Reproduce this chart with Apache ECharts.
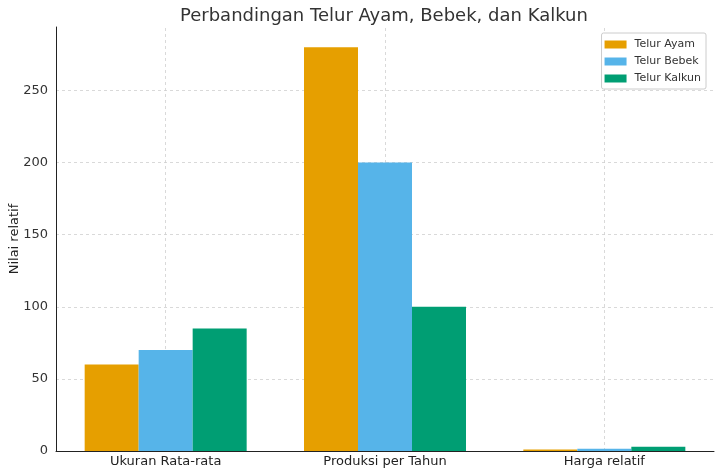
<!DOCTYPE html>
<html>
<head>
<meta charset="utf-8">
<script src="https://cdn.jsdelivr.net/npm/echarts@6/dist/echarts.min.js"></script>
<style>html,body{margin:0;padding:0;background:#fff;}#c{width:720px;height:472px;}</style>
</head>
<body>
<div id="c"></div>
<script>
const categories = ['Ukuran Rata-rata', 'Produksi per Tahun', 'Harga relatif'];
const seriesNames = ['Telur Ayam', 'Telur Bebek', 'Telur Kalkun'];
const ayam = [60, 280, 1];
const bebek = [70, 200, 1.5];
const kalkun = [85, 100, 3];
const yTicks = [0, 50, 100, 150, 200, 250];
const colors = ['#E69F00', '#56B4E9', '#009E73'];

const chart = echarts.init(document.getElementById('c'), null, {renderer: 'canvas'});
const font = 'DejaVu Sans';
const dataSets = [ayam, bebek, kalkun];
const gridLine = {color: '#d0d0d0', type: [3, 3], width: 0.8};
const series = seriesNames.map((n, i) => ({
  name: n, type: 'bar', data: dataSets[i],
  barWidth: 54, barGap: '0%', z: 3,
  itemStyle: {color: colors[i]}
}));
series.push({
  name: 'vgrid', type: 'line', data: [], z: 1, silent: true, symbol: 'none',
  markLine: {
    silent: true, symbol: 'none', z: 1, animation: false,
    label: {show: false},
    lineStyle: gridLine,
    data: categories.map(c => ({xAxis: c}))
  }
});
chart.setOption({
  animation: false,
  backgroundColor: '#fff',
  textStyle: {fontFamily: font},
  title: {
    text: 'Perbandingan Telur Ayam, Bebek, dan Kalkun',
    left: 175, top: 2,
    textStyle: {fontFamily: font, fontSize: 18, fontWeight: 'normal', color: '#333'}
  },
  graphic: [{
    type: 'text', x: 15, y: 239, rotation: Math.PI / 2,
    style: {text: 'Nilai relatif', fontFamily: font, fontSize: 13, fill: '#222',
      align: 'center', verticalAlign: 'middle'}
  }],
  legend: {
    right: 14, top: 33, orient: 'vertical',
    itemWidth: 22, itemHeight: 8, itemGap: 6,
    padding: [6, 5, 5, 3],
    borderColor: '#ccc', borderWidth: 1, borderRadius: 2,
    backgroundColor: '#fff',
    textStyle: {fontFamily: font, fontSize: 11, color: '#333', padding: [0, 0, 0, 3]},
    data: seriesNames.map(n => ({name: n, icon: 'rect'}))
  },
  grid: {left: 56, right: 6, top: 27, bottom: 21, containLabel: false, outerBoundsMode: 'none'},
  xAxis: {
    type: 'category', data: categories,
    axisLine: {lineStyle: {color: '#222', width: 1}},
    axisTick: {alignWithLabel: true, inside: true, length: 4, lineStyle: {color: '#222'}},
    axisLabel: {fontFamily: font, fontSize: 13, color: '#222', margin: 4},
    splitLine: {show: false}
  },
  yAxis: {
    type: 'value', min: 0, max: 294, interval: 50,
    axisLine: {show: true, lineStyle: {color: '#222', width: 1}},
    axisTick: {show: false, customValues: yTicks},
    axisLabel: {fontFamily: font, fontSize: 13, color: '#333', margin: 8, customValues: yTicks},
    splitLine: {show: true, lineStyle: gridLine}
  },
  series: series
});
</script>
</body>
</html>
